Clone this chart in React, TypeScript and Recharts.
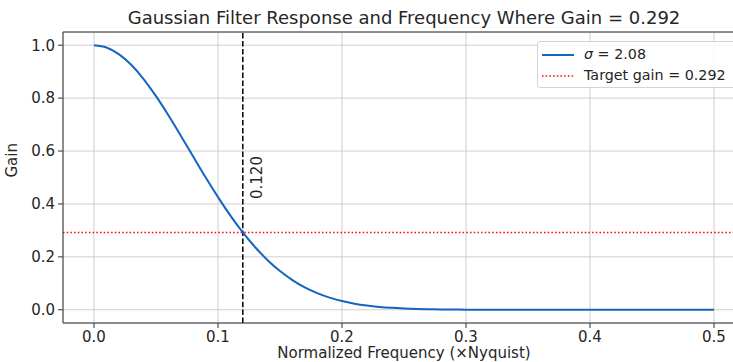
import {
  CartesianGrid,
  Line,
  LineChart,
  ReferenceLine,
  XAxis,
  YAxis,
} from "recharts";

// frequency (x Nyquist) and gain
const freqs = [
  0, 0.01, 0.02, 0.03, 0.04, 0.05, 0.06, 0.07, 0.08, 0.09, 0.1, 0.11, 0.12, 0.13,
  0.14, 0.15, 0.16, 0.17, 0.18, 0.19, 0.2, 0.21, 0.22, 0.23, 0.24, 0.25, 0.26,
  0.27, 0.28, 0.29, 0.3, 0.35, 0.4, 0.45, 0.5,
];
const gains = [
  1.0, 0.9915, 0.9664, 0.926, 0.8723, 0.8077, 0.7354, 0.658, 0.579, 0.5007,
  0.4257, 0.3558, 0.2924, 0.2362, 0.1875, 0.1464, 0.1123, 0.0847, 0.0629,
  0.0458, 0.0328, 0.0231, 0.016, 0.0109, 0.0073, 0.0048, 0.0031, 0.002, 0.0012,
  0.0008, 0.0005, 0, 0, 0, 0,
];
const xTicks = [0, 0.1, 0.2, 0.3, 0.4, 0.5];
const yTicks = [0, 0.2, 0.4, 0.6, 0.8, 1.0];
const targetGain = 0.292;
const cutoffFreq = 0.12;
const sigma = "2.08";

const data = freqs.map((f, i) => ({ f, gain: gains[i] }));

const FONT = "'DejaVu Sans', sans-serif";
const BLUE = "#1565c0";
const TEXT = "#262626";

function LegendBox() {
  return (
    <div
      style={{
        position: "absolute",
        left: 537,
        top: 41,
        width: 210,
        height: 47,
        background: "rgba(255,255,255,0.85)",
        border: "1px solid #d4d4d4",
        borderRadius: 3,
        padding: "2px 8px 2px 4px",
        fontFamily: FONT,
        fontSize: 14.3,
        color: TEXT,
        boxSizing: "border-box",
        lineHeight: "21px",
        whiteSpace: "nowrap",
      }}
    >
      <div style={{ display: "flex", alignItems: "center" }}>
        <svg width={34} height={10} style={{ marginRight: 8, flexShrink: 0 }}>
          <line x1={0} y1={5} x2={32} y2={5} stroke={BLUE} strokeWidth={2} />
        </svg>
        <span>
          <i>σ</i> = {sigma}
        </span>
      </div>
      <div style={{ display: "flex", alignItems: "center" }}>
        <svg width={34} height={10} style={{ marginRight: 8, flexShrink: 0 }}>
          <line
            x1={0}
            y1={5}
            x2={32}
            y2={5}
            stroke="#ff0000"
            strokeWidth={1.5}
            strokeDasharray="1.5 2.2"
          />
        </svg>
        <span>Target gain = {targetGain}</span>
      </div>
    </div>
  );
}

export default function App() {
  return (
    <div
      style={{
        position: "absolute",
        left: 0,
        top: 0,
        width: 733,
        height: 362,
        overflow: "hidden",
        background: "#fff",
      }}
    >
      <div
        style={{
          position: "absolute",
          left: 0,
          top: 7,
          width: 808,
          textAlign: "center",
          fontFamily: FONT,
          fontSize: 18,
          color: TEXT,
          whiteSpace: "nowrap",
        }}
      >
        Gaussian Filter Response and Frequency Where Gain = {targetGain}
      </div>
      <LineChart
        width={755}
        height={362}
        data={data}
        margin={{ top: 32, right: 10, bottom: 0, left: 0 }}
        style={{ fontFamily: FONT }}
      >
        <CartesianGrid stroke="#cfcfcf" strokeWidth={1} />
        <XAxis
          dataKey="f"
          type="number"
          domain={[-0.025, 0.525]}
          ticks={xTicks}
          tickFormatter={(v: number) => v.toFixed(1)}
          height={39}
          stroke="#333"
          tick={{ fill: TEXT, fontSize: 15 }}
          tickSize={5}
          tickMargin={3}
          label={{
            value: "Normalized Frequency (×Nyquist)",
            position: "insideBottom",
            offset: 4,
            fill: TEXT,
            fontSize: 15,
          }}
        />
        <YAxis
          type="number"
          domain={[-0.05, 1.05]}
          ticks={yTicks}
          tickFormatter={(v: number) => v.toFixed(1)}
          width={63}
          stroke="#333"
          tick={{ fill: TEXT, fontSize: 15 }}
          tickSize={5}
          tickMargin={3}
          label={{
            value: "Gain",
            angle: -90,
            position: "insideLeft",
            offset: 12,
            fill: TEXT,
            fontSize: 15,
          }}
        />
        <ReferenceLine y={1.05} stroke="#333" strokeWidth={1} />
        <ReferenceLine
          y={targetGain}
          stroke="#ff0000"
          strokeWidth={1.5}
          strokeDasharray="1.5 2.2"
        />
        <ReferenceLine
          x={cutoffFreq}
          stroke="#000"
          strokeWidth={1.5}
          strokeDasharray="5.5 2.4"
          label={(props: any) => {
            const vb = props.viewBox;
            const cx = vb.x + 14;
            const cy = vb.y + vb.height / 2;
            return (
              <text
                x={cx}
                y={cy}
                transform={`rotate(-90 ${cx} ${cy})`}
                textAnchor="middle"
                dominantBaseline="central"
                fill={TEXT}
                fontSize={15}
                fontFamily={FONT}
              >
                {cutoffFreq.toFixed(3)}
              </text>
            );
          }}
        />
        <Line
          type="monotone"
          dataKey="gain"
          stroke={BLUE}
          strokeWidth={2}
          dot={false}
          isAnimationActive={false}
        />
      </LineChart>
      <LegendBox />
    </div>
  );
}
